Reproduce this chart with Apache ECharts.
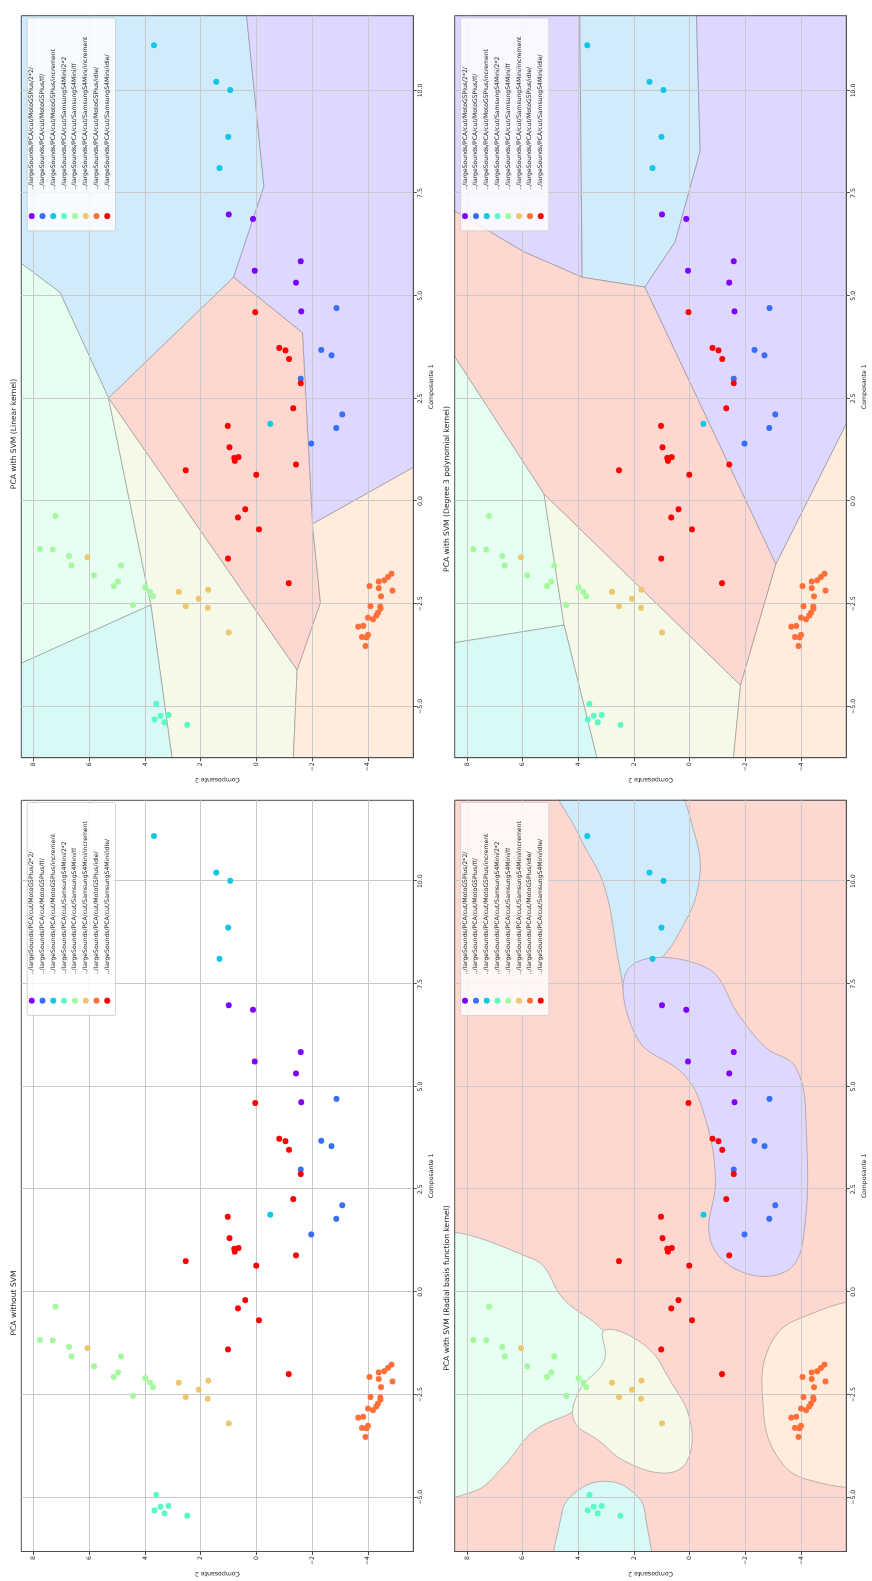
<!DOCTYPE html>
<html>
<head>
<meta charset="utf-8">
<script src="https://cdn.jsdelivr.net/npm/echarts@6/dist/echarts.min.js"></script>
<style>
  html, body { margin: 0; padding: 0; background: #fff; overflow: hidden; }
  /* the figure is laid out landscape and turned a quarter turn */
  #stage {
    position: absolute; left: 0; top: 0;
    width: 1581px; height: 872px;
    transform-origin: 0 0;
    transform: translate(0, 1581px) rotate(-90deg);
  }
</style>
</head>
<body>
<div id="stage"></div>
<script>
// ---- classes ----
const CLASS_NAMES = [
  '../largeSounds/PCA/cut/MotoG5Plus/2*2/',
  '../largeSounds/PCA/cut/MotoG5Plus/ff/',
  '../largeSounds/PCA/cut/MotoG5Plus/increment',
  '../largeSounds/PCA/cut/SamsungS4Mini/2*2',
  '../largeSounds/PCA/cut/SamsungS4Mini/ff',
  '../largeSounds/PCA/cut/SamsungS4Mini/increment',
  '../largeSounds/PCA/cut/MotoG5Plus/idle/',
  '../largeSounds/PCA/cut/SamsungS4Mini/idle/'
];
const POINT_COLORS = ['#8000ff', '#376ff9', '#12c7e6', '#5bf9c7', '#a4f99f', '#edc76f', '#ff6f39', '#ff0000'];
const REGION_COLORS = ['#ded7ff', '#ded7ff', '#d0ecfc', '#d7faf7', '#e6fff0', '#f4fae7', '#ffecdd', '#ffd7d1'];

// ---- points: [Composante 1, Composante 2] ----
const MOTO_2X2 = [[6.98, 0.99], [6.87, 0.12], [5.84, -1.59], [5.61, 0.06], [5.32, -1.42], [4.62, -1.61]];
const MOTO_FF = [[4.70, -2.87], [3.68, -2.33], [3.55, -2.69], [2.98, -1.59], [2.11, -3.08], [1.78, -2.86], [1.40, -1.97]];
const MOTO_INCREMENT = [[11.10, 3.68], [10.21, 1.44], [10.01, 0.94], [8.87, 1.01], [8.11, 1.33], [1.88, -0.50]];
const SAMSUNG_2X2 = [[-4.94, 3.60], [-5.32, 3.66], [-5.23, 3.44], [-5.21, 3.16], [-5.39, 3.30], [-5.45, 2.48]];
const SAMSUNG_FF = [[-0.36, 7.21], [-1.17, 7.77], [-1.18, 7.31], [-1.34, 6.73], [-1.57, 6.64], [-1.81, 5.83], [-1.57, 4.86],
  [-1.96, 4.97], [-2.07, 5.12], [-2.10, 3.99], [-2.21, 3.82], [-2.32, 3.71], [-2.53, 4.43]];
const SAMSUNG_INCREMENT = [[-1.37, 6.06], [-2.21, 2.79], [-2.16, 1.73], [-2.38, 2.07], [-2.56, 2.54], [-2.60, 1.75], [-3.20, 0.99]];
const MOTO_IDLE = [[-1.77, -4.85], [-1.85, -4.72], [-1.93, -4.59], [-1.96, -4.39], [-2.07, -4.06], [-2.12, -4.39], [-2.18, -4.88],
  [-2.32, -4.47], [-2.56, -4.09], [-2.57, -4.44], [-2.62, -4.45], [-2.72, -4.36], [-2.79, -4.30], [-2.88, -4.18], [-2.84, -4.00],
  [-3.06, -3.65], [-3.04, -3.83], [-3.26, -4.00], [-3.32, -3.95], [-3.31, -3.79], [-3.53, -3.91]];
const SAMSUNG_IDLE = [[4.60, 0.04], [3.73, -0.82], [3.67, -1.04], [3.46, -1.17], [2.87, -1.59], [2.26, -1.32], [1.83, 1.03],
  [1.31, 0.97], [1.05, 0.80], [1.07, 0.64], [0.98, 0.78], [0.89, -1.42], [0.75, 2.54], [0.64, 0.01], [-0.20, 0.40],
  [-0.40, 0.66], [-0.69, -0.09], [-1.40, 1.02], [-2.00, -1.16]];
const CLASS_POINTS = [MOTO_2X2, MOTO_FF, MOTO_INCREMENT, SAMSUNG_2X2, SAMSUNG_FF, SAMSUNG_INCREMENT, MOTO_IDLE, SAMSUNG_IDLE];

// ---- axes ----
const X_TICKS = [-5, -2.5, 0, 2.5, 5, 7.5, 10];
const Y_TICKS = [-4, -2, 0, 2, 4, 6, 8];
const X_RANGE_PLAIN = [-6.32, 11.97];
const X_RANGE_FIT = [-6.25, 11.82];
const Y_RANGE = [-5.63, 8.44];

const PANEL_TITLES = [
  'PCA without SVM',
  'PCA with SVM (Linear kernel)',
  'PCA with SVM (Radial basis function kernel)',
  'PCA with SVM (Degree 3 polynomial kernel)'
];

// ---- decision regions: [class, polygon of [Composante 1, Composante 2]] ----
const LINEAR_REGIONS = [
  [2, [[13, 9], [13, 0.53], [7.66, -0.27], [5.45, 0.82], [2.51, 5.31], [5.08, 7.05], [6.07, 9]]],
  [0, [[13, 0.53], [13, -6], [0.96, -6], [-0.56, -2.01], [4.10, -1.65], [5.45, 0.82], [7.66, -0.27]]],
  [4, [[6.07, 9], [5.08, 7.05], [2.51, 5.31], [-2.53, 3.79], [-4.12, 9]]],
  [7, [[2.51, 5.31], [5.45, 0.82], [4.10, -1.65], [-0.56, -2.01], [-2.48, -2.30], [-4.12, -1.46]]],
  [5, [[2.51, 5.31], [-4.12, -1.46], [-7, -1.28], [-7, 2.88], [-2.53, 3.79]]],
  [3, [[-4.12, 9], [-2.53, 3.79], [-7, 2.88], [-7, 9]]],
  [6, [[0.96, -6], [-7, -6], [-7, -1.28], [-4.12, -1.46], [-2.48, -2.30], [-0.56, -2.01]]]
];
const RBF_REGIONS = [
  [7, [[-8, -7], [14, -7], [14, 10], [-8, 10]]],
  [2, [[12.5, 4.76], [11.10, 3.96], [9.87, 3.06], [7.91, 2.51], [7.05, 2.15], [7.91, 1.25], [8.65, 0.45], [9.87, -0.31], [11.10, -0.20], [12.5, 0.88]]],
  [0, [[7.91, 2.15], [6.19, 1.90], [5.26, 0.16], [4.23, -0.56], [2.75, -0.93], [1.28, -0.74], [0.50, -1.83], [0.50, -3.46],
       [1.28, -4.08], [3.98, -4.19], [5.45, -3.83], [5.95, -2.74], [6.68, -1.83], [7.91, -0.56]]],
  [4, [[1.16, 9.5], [0.79, 5.59], [-0.19, 4.51], [-0.93, 3.13], [-1.42, 2.88], [-1.91, 3.24], [-2.77, 3.90], [-3.38, 5.59],
       [-4.24, 6.68], [-4.86, 7.77], [-4.86, 9.5]]],
  [5, [[-0.93, 3.06], [-1.30, 1.61], [-2.16, 0.70], [-3.14, -0.02], [-4.12, 0.09], [-4.41, 0.88], [-4.12, 2.33], [-3.63, 3.24],
       [-3.14, 4.15], [-2.40, 3.96], [-1.66, 3.06]]],
  [3, [[-7.5, 4.69], [-5.35, 4.58], [-4.81, 3.96], [-4.61, 3.06], [-4.81, 2.15], [-5.35, 1.61], [-7.5, 1.61]]],
  [6, [[-0.44, -6.5], [-0.68, -3.83], [-1.42, -2.81], [-2.65, -2.63], [-3.87, -3.03], [-4.56, -4.19], [-4.49, -6.5]]]
];
const POLY_REGIONS = [
  [0, [[13, 9], [13, 3.96], [5.45, 3.86], [6.07, 5.96], [7.29, 9]]],
  [2, [[13, 3.96], [13, -0.20], [8.52, -0.38], [6.31, 0.52], [5.21, 1.61], [5.45, 3.86]]],
  [0, [[13, -0.20], [13, -6], [2.38, -6], [-1.54, -3.10], [5.21, 1.61], [6.31, 0.52], [8.52, -0.38]]],
  [7, [[7.29, 9], [6.07, 5.96], [5.45, 3.86], [5.21, 1.61], [-1.54, -3.10], [-4.49, -1.83], [0.17, 5.23], [4.10, 9]]],
  [4, [[4.10, 9], [0.17, 5.23], [-3.02, 4.51], [-3.51, 9]]],
  [5, [[0.17, 5.23], [-4.49, -1.83], [-7, -1.47], [-7, 3.06], [-3.02, 4.51]]],
  [3, [[-3.51, 9], [-3.02, 4.51], [-7, 3.06], [-7, 9]]],
  [6, [[2.38, -6], [-7, -6], [-7, -1.47], [-4.49, -1.83], [-1.54, -3.10]]]
];

// ---- layout (landscape figure coordinates) ----
const FONT = 'DejaVu Sans';
const PANELS = [
  { grid: { left: 29.5, top: 21.3, width: 751.2, height: 392 }, xRange: X_RANGE_PLAIN, regions: null, smooth: 0, titleX: 278 },
  { grid: { left: 823.3, top: 21.3, width: 742, height: 392 }, xRange: X_RANGE_FIT, regions: LINEAR_REGIONS, smooth: 0, titleX: 1147 },
  { grid: { left: 29.5, top: 454.7, width: 751.2, height: 391.6 }, xRange: X_RANGE_PLAIN, regions: RBF_REGIONS, smooth: 0.4, titleX: 293 },
  { grid: { left: 823.3, top: 454.7, width: 742, height: 391.6 }, xRange: X_RANGE_FIT, regions: POLY_REGIONS, smooth: 0, titleX: 1092 }
];

function fmtX(v) { return (v < 0 ? '\u2212' : '') + Math.abs(v).toFixed(1); }
function fmtY(v) { return (v < 0 ? '\u2212' : '') + Math.abs(v); }

const grids = [], xAxes = [], yAxes = [], series = [], titles = [], legends = [], graphics = [];

PANELS.forEach((p, i) => {
  const g = p.grid;
  grids.push(Object.assign({ show: true, borderColor: '#505050', borderWidth: 1, backgroundColor: 'transparent', z: 4 }, g));

  xAxes.push({
    gridIndex: i, type: 'value', min: p.xRange[0], max: p.xRange[1], z: 4,
    name: 'Composante 1', nameLocation: 'middle', nameGap: 15,
    nameTextStyle: { fontFamily: FONT, fontSize: 6.2, color: '#222' },
    axisLine: { show: true, onZero: false, lineStyle: { color: '#505050', width: 1 } },
    axisTick: { show: true, length: 3.5, customValues: X_TICKS, lineStyle: { color: '#505050' } },
    axisLabel: { customValues: X_TICKS, formatter: fmtX, margin: 4.5, fontFamily: FONT, fontSize: 6.2, color: '#222' },
    splitLine: { show: true, lineStyle: { color: '#c9c9c9', width: 1 } }
  });
  yAxes.push({
    gridIndex: i, type: 'value', min: Y_RANGE[0], max: Y_RANGE[1], z: 4,
    name: 'Composante 2', nameLocation: 'middle', nameGap: 19, nameRotate: 90,
    nameTextStyle: { fontFamily: FONT, fontSize: 6.2, color: '#222' },
    axisLine: { show: true, onZero: false, lineStyle: { color: '#505050', width: 1 } },
    axisTick: { show: true, length: 3.5, customValues: Y_TICKS, lineStyle: { color: '#505050' } },
    axisLabel: { customValues: Y_TICKS, formatter: fmtY, margin: 4.5, fontFamily: FONT, fontSize: 6.2, color: '#222' },
    splitLine: { show: true, lineStyle: { color: '#c9c9c9', width: 1 } }
  });

  if (p.regions) {
    const regs = p.regions;
    series.push({
      type: 'custom', xAxisIndex: i, yAxisIndex: i, clip: true, silent: true, z: 1,
      data: regs.map((r, k) => [k, k]),
      renderItem: (params, api) => {
        const r = regs[params.dataIndex];
        const pts = r[1].map(v => api.coord(v));
        const smooth = (p.smooth && params.dataIndex > 0) ? p.smooth : 0;
        return {
          type: 'polygon',
          shape: { points: pts, smooth: smooth },
          style: { fill: REGION_COLORS[r[0]], stroke: 'rgba(120,120,120,0.6)', lineWidth: 0.8 }
        };
      }
    });
  }

  CLASS_POINTS.forEach((pts, c) => {
    series.push({
      type: 'scatter', name: CLASS_NAMES[c], xAxisIndex: i, yAxisIndex: i, z: 5,
      symbol: 'circle', symbolSize: 6, data: pts,
      itemStyle: { color: POINT_COLORS[c], opacity: 1 }
    });
  });

  titles.push({
    text: PANEL_TITLES[i], left: p.titleX, top: g.top - 11.5, textAlign: 'center', padding: 0,
    textStyle: { fontFamily: FONT, fontSize: 7.6, fontWeight: 'normal', color: '#222' }
  });

  // legend box in the upper right of each panel: a frame, a column of markers, a column of labels
  const boxW = 213, boxH = 88.3;
  const boxLeft = g.left + g.width - 2.7 - boxW;
  const boxTop = g.top + 5.4;
  graphics.push({
    type: 'rect', left: boxLeft, top: boxTop, z: 8,
    shape: { width: boxW, height: boxH, r: 2 },
    style: { fill: 'rgba(255,255,255,0.8)', stroke: '#d3d3d3', lineWidth: 1 }
  });
  const legendBase = {
    orient: 'vertical', top: boxTop + 2, padding: 0, z: 9,
    itemHeight: 6, itemGap: 4.8,
    textStyle: { fontFamily: FONT, fontSize: 6.1, lineHeight: 6, color: '#222' },
    data: CLASS_NAMES.slice()
  };
  legends.push(Object.assign({}, legendBase, {
    left: boxLeft + 12.3, itemWidth: 6, icon: 'circle', formatter: () => ' '
  }));
  legends.push(Object.assign({}, legendBase, {
    left: boxLeft + 41.7 - 6, itemWidth: 1, icon: 'none'
  }));
});

const chart = echarts.init(document.getElementById('stage'), null, { renderer: 'canvas', width: 1581, height: 872 });
chart.setOption({
  animation: false,
  backgroundColor: '#ffffff',
  textStyle: { fontFamily: FONT },
  title: titles,
  legend: legends,
  grid: grids,
  xAxis: xAxes,
  yAxis: yAxes,
  graphic: graphics,
  series: series
});
</script>
</body>
</html>
